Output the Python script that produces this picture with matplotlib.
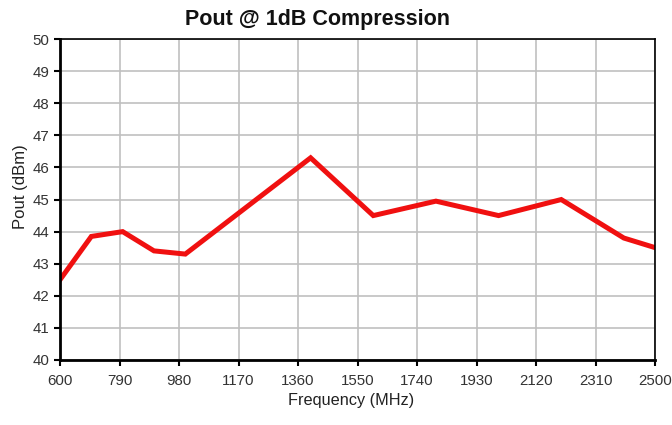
import matplotlib
matplotlib.use("Agg")
import matplotlib.pyplot as plt

plt.rcParams['font.family'] = ['Liberation Sans', 'DejaVu Sans']

# dados
freq_mhz = [600, 700, 800, 900, 1000, 1200, 1400, 1600, 1800, 2000, 2200, 2400, 2500]
pout_dbm = [42.5, 43.85, 44.0, 43.4, 43.3, 44.8, 46.3, 44.5, 44.95, 44.5, 45.0, 43.8, 43.5]
x_ticks = [600, 790, 980, 1170, 1360, 1550, 1740, 1930, 2120, 2310, 2500]
y_ticks = list(range(40, 51))

fig = plt.figure(figsize=(6.72, 4.25), dpi=100)
ax = fig.add_axes([0.0893, 0.153, 0.8857, 0.755])

ax.plot(freq_mhz, pout_dbm, color='#f01010', linewidth=3.6, solid_joinstyle='miter')

ax.set_xlim(600, 2500)
ax.set_ylim(40, 50)
ax.set_xticks(x_ticks)
ax.set_yticks(y_ticks)
ax.grid(True, color='#c0c0c0', linewidth=1.2)
ax.set_axisbelow(True)

for s in ['left', 'bottom']:
    ax.spines[s].set_linewidth(2.0)
for s in ['top', 'right']:
    ax.spines[s].set_linewidth(1.2)

ax.tick_params(direction='out', length=4, width=1.5, labelsize=10.8, labelcolor='#333333')
ax.tick_params(axis='x', pad=6)

# título um pouco à esquerda do centro do eixo, como no original
fig.text(0.4725, 0.955, 'Pout @ 1dB Compression', ha='center', va='center',
         fontsize=15.5, fontweight='bold', color='#111111')
ax.set_xlabel('Frequency (MHz)', fontsize=11.7, va='center', color='#222222')
ax.xaxis.set_label_coords(0.489, -0.125)
ax.set_ylabel('Pout (dBm)', fontsize=12, va='center', color='#222222')
ax.yaxis.set_label_coords(-0.067, 0.54)

fig.savefig('out.png', dpi=100)
